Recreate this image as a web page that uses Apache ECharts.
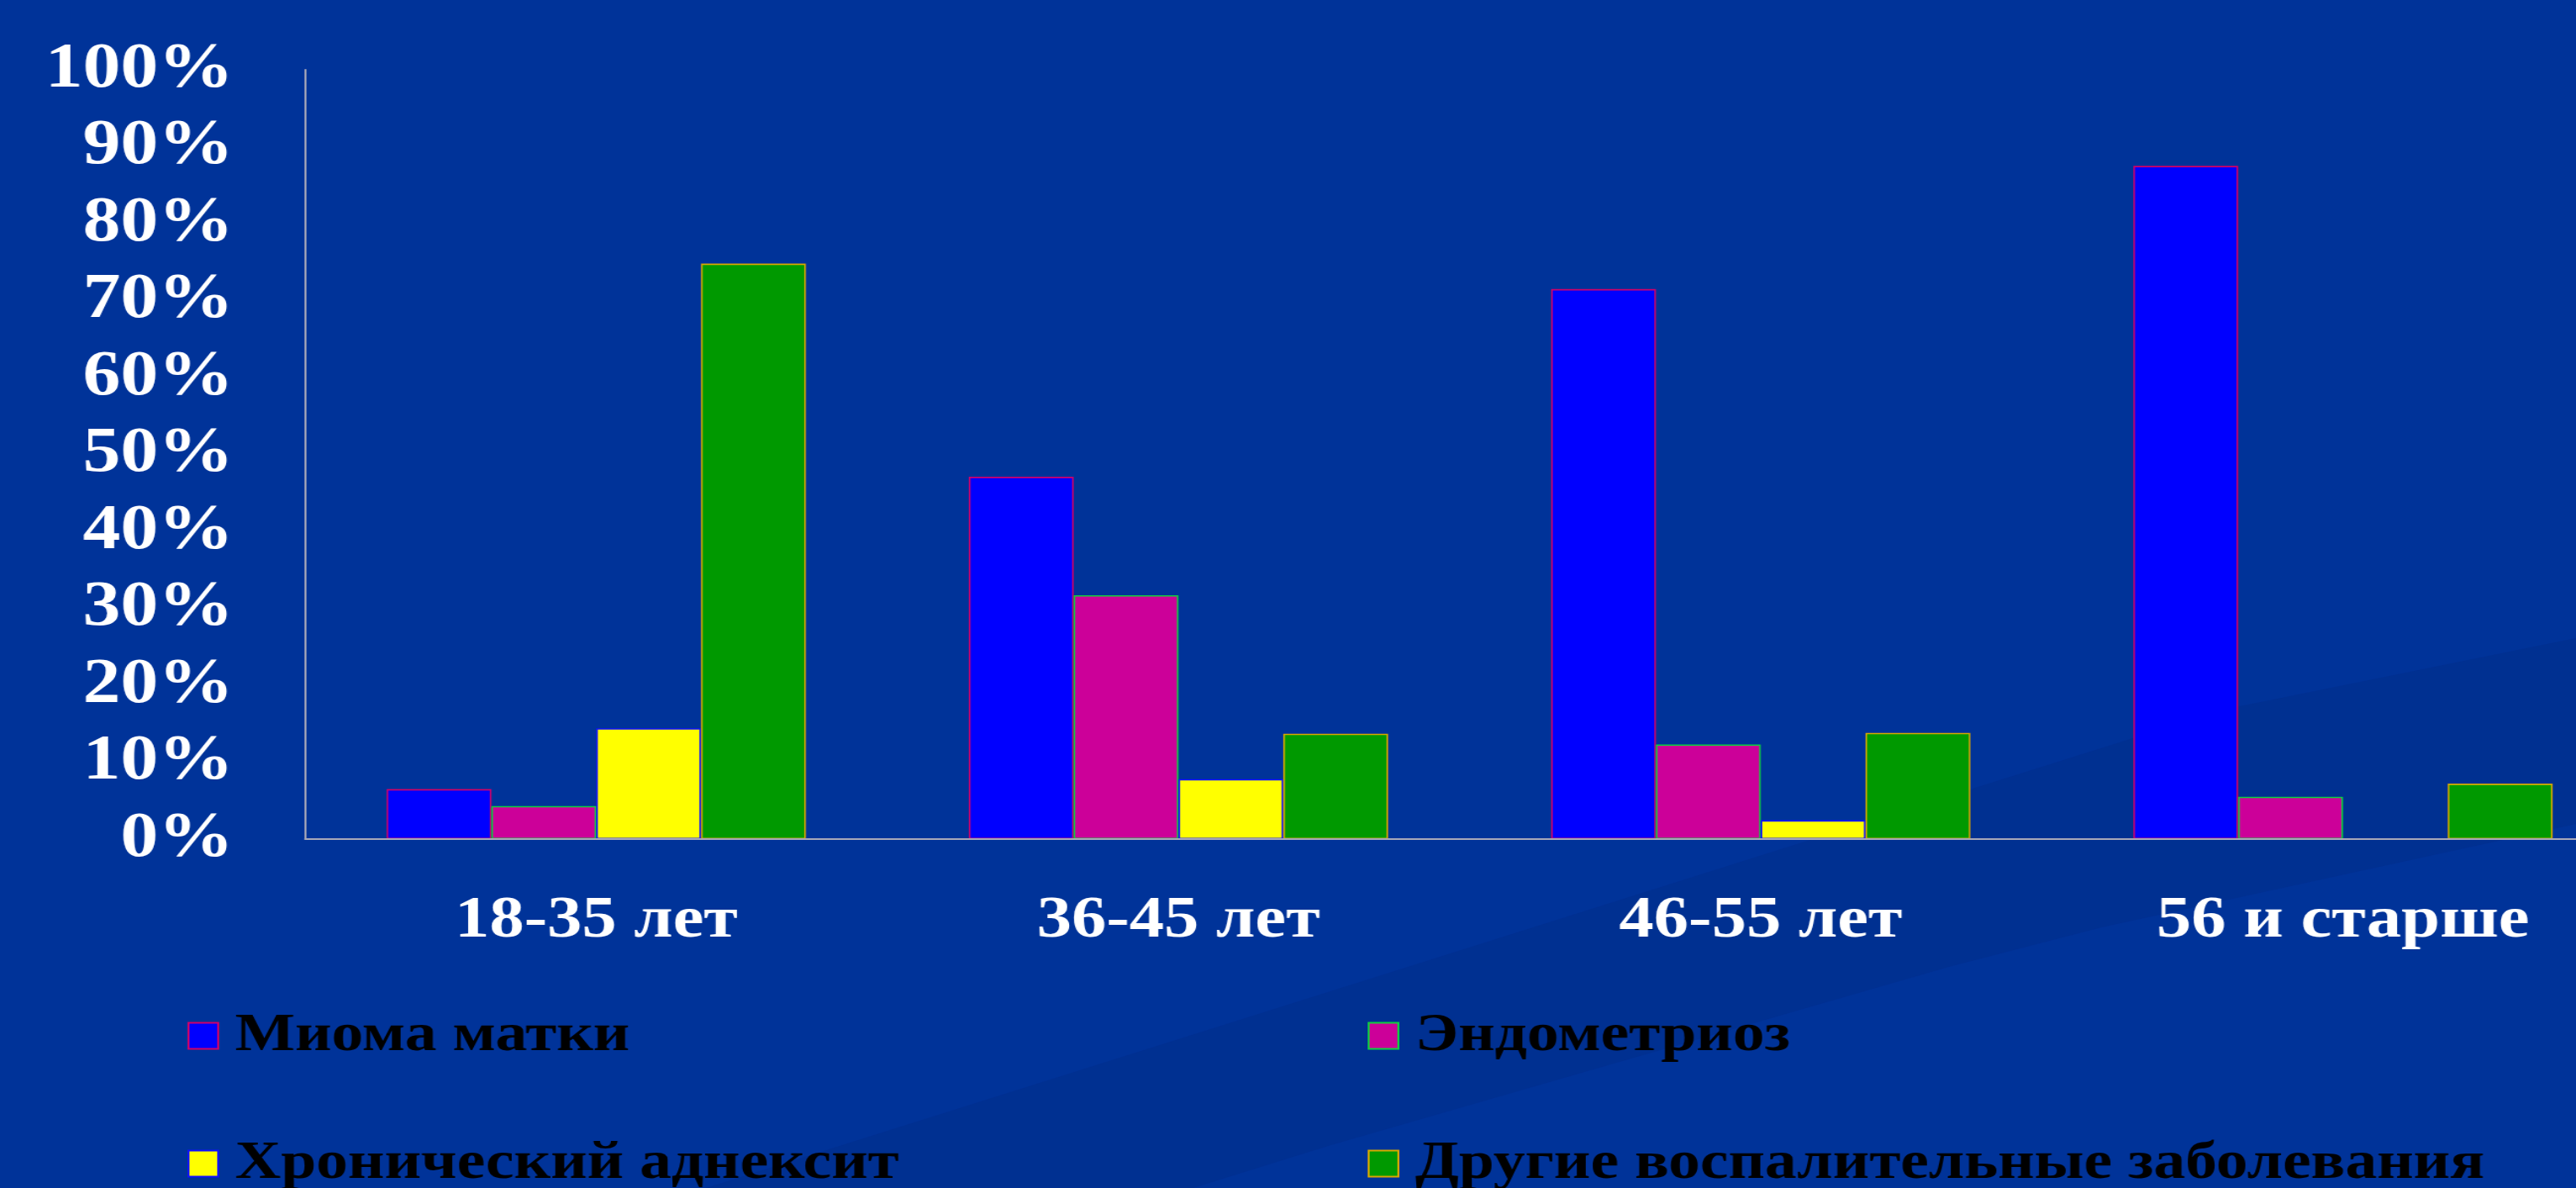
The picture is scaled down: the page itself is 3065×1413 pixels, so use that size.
<!DOCTYPE html>
<html>
<head>
<meta charset="utf-8">
<script src="https://cdn.jsdelivr.net/npm/echarts@6/dist/echarts.min.js"></script>
<style>
  html, body { margin: 0; padding: 0; width: 3065px; height: 1413px; overflow: hidden; background: #003399; }
  /* slide text is set in a slightly widened serif, so the whole chart is stretched horizontally */
  #chart { width: 2656px; height: 1413px; transform: scaleX(1.18); transform-origin: 0 0; }
</style>
</head>
<body>
<div id="chart"></div>
<script>
// Age groups along the x axis
const categories = ['18-35 лет', '36-45 лет', '46-55 лет', '56 и старше'];

// Share of patients per diagnosis, %
const myoma = [6.5, 47.1, 71.5, 87.5];           // Миома матки
const endometriosis = [4.3, 31.7, 12.3, 5.5];    // Эндометриоз
const adnexitis = [14.4, 7.8, 2.45, 0];          // Хронический аднексит
const otherInflam = [74.8, 13.7, 13.8, 7.2];     // Другие воспалительные заболевания

// Value axis: 0% … 100% in steps of 10
const yMin = 0, yMax = 100, yStep = 10;

const seriesNames = ['Миома матки', 'Эндометриоз', 'Хронический аднексит', 'Другие воспалительные заболевания'];
const seriesData = [myoma, endometriosis, adnexitis, otherInflam];
const fills = ['#0000FF', '#CC0099', '#FFFF00', '#009900'];
const edges = ['#D0006A', '#10D040', '#1010FF', '#D8A800'];

const serif = '"Liberation Serif", "Times New Roman", serif';

const chart = echarts.init(document.getElementById('chart'), null, { renderer: 'canvas' });

const legendText = {
  color: '#000000', fontFamily: serif, fontWeight: 'bold',
  fontSize: 64, lineHeight: 64, padding: [0, 0, 0, 12]
};

// legend laid out as two columns × two rows
const legendSlots = [
  { name: seriesNames[0], left: 184, top: 1195 },
  { name: seriesNames[1], left: 1374, top: 1195 },
  { name: seriesNames[2], left: 184, top: 1347 },
  { name: seriesNames[3], left: 1374, top: 1347 }
];

chart.setOption({
  backgroundColor: '#003399',
  animation: false,
  graphic: [{
    // darker swoosh band of the slide background
    type: 'polygon',
    z: -10,
    silent: true,
    shape: {
      points: [
        [2656, 745], [2242, 844], [1965, 947], [1339, 1180], [712, 1413],
        [1203, 1413], [1339, 1363], [1965, 1150], [2119, 1103], [2656, 965]
      ]
    },
    style: { fill: '#003091' }
  }],
  grid: { left: 307.6, right: 0, top: 83, bottom: 415, containLabel: false },
  legend: legendSlots.map(s => ({
    data: [s.name],
    orient: 'horizontal', left: s.left, top: s.top,
    itemWidth: 30, itemHeight: 31,
    icon: 'rect',
    selectedMode: false,
    textStyle: legendText
  })),
  xAxis: {
    type: 'category',
    data: categories,
    z: 5,
    axisLine: { show: true, lineStyle: { color: '#A8A8B8', width: 2 } },
    axisTick: { show: false },
    axisLabel: {
      color: '#FFFFFF', fontFamily: serif, fontWeight: 'bold',
      fontSize: 70, margin: 63
    },
    splitLine: { show: false }
  },
  yAxis: {
    type: 'value',
    min: yMin, max: yMax, interval: yStep,
    axisLine: { show: true, lineStyle: { color: '#A8A8B8', width: 2 } },
    axisTick: { show: false },
    splitLine: { show: false },
    axisLabel: {
      color: '#FFFFFF', fontFamily: serif, fontWeight: 'bold',
      fontSize: 76, margin: 72, padding: [20, 0, 0, 0],
      formatter: '{value}%'
    }
  },
  series: seriesNames.map((name, i) => ({
    name,
    type: 'bar',
    data: seriesData[i],
    barGap: '0%',
    barCategoryGap: '28%',
    itemStyle: { color: fills[i], borderColor: edges[i], borderWidth: 1.6 }
  }))
});
</script>
</body>
</html>
